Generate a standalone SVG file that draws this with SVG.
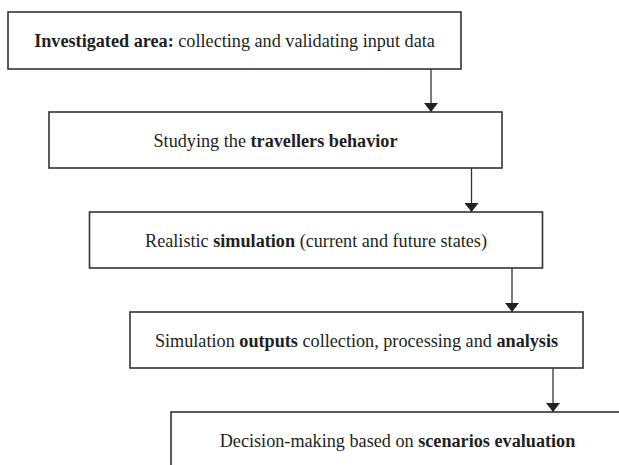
<svg xmlns="http://www.w3.org/2000/svg" width="619" height="465" viewBox="0 0 619 465">
<style>
.box{fill:#fff;stroke:#333;stroke-width:1.6}
.t{font-family:"Liberation Serif","Times New Roman",serif;font-size:18.2px;fill:#231f20;text-anchor:middle}
.b{font-weight:bold}
.c{stroke:#333;stroke-width:1.3;fill:none}
</style>
<defs>
<marker id="ah" viewBox="0 0 9 14" refX="9" refY="7" markerWidth="9" markerHeight="14" markerUnits="userSpaceOnUse" orient="auto">
<path d="M0,0 L9,7 L0,14 Z" fill="#222"/>
</marker>
</defs>
<rect width="619" height="465" fill="#fff"/>
<g id="connectors">
<line class="c" x1="431" y1="69" x2="431" y2="112" marker-end="url(#ah)"/>
<line class="c" x1="471.5" y1="168" x2="471.5" y2="212" marker-end="url(#ah)"/>
<line class="c" x1="512" y1="268" x2="512" y2="312" marker-end="url(#ah)"/>
<line class="c" x1="553" y1="368" x2="553" y2="412" marker-end="url(#ah)"/>
</g>
<g id="n1">
<rect class="box" x="8" y="12" width="453" height="57"/>
<text class="t" x="234.5" y="46.5"><tspan class="b">Investigated area:</tspan> collecting and validating input data</text>
</g>
<g id="n2">
<rect class="box" x="49" y="112" width="453" height="56"/>
<text class="t" x="275.5" y="146.5">Studying the <tspan class="b">travellers behavior</tspan></text>
</g>
<g id="n3">
<rect class="box" x="89.5" y="212" width="453" height="56"/>
<text class="t" x="316" y="246.5">Realistic <tspan class="b">simulation</tspan> (current and future states)</text>
</g>
<g id="n4">
<rect class="box" x="130" y="312" width="453" height="56"/>
<text class="t" x="356.5" y="346.5">Simulation <tspan class="b">outputs</tspan> collection, processing and <tspan class="b">analysis</tspan></text>
</g>
<g id="n5">
<rect class="box" x="171" y="412" width="453" height="60"/>
<text class="t" x="397.5" y="446.5">Decision-making based on <tspan class="b">scenarios evaluation</tspan></text>
</g>
</svg>
